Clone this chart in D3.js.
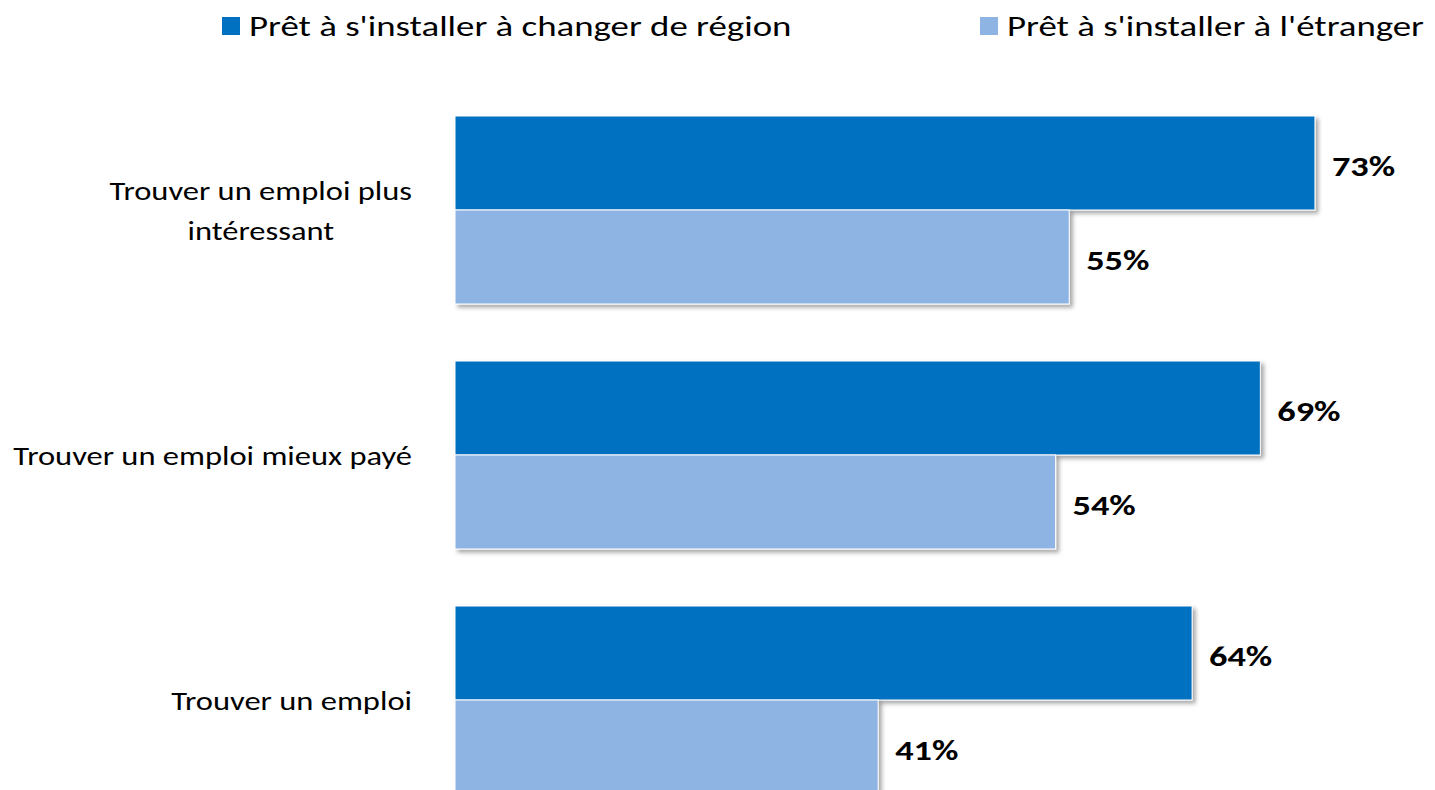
<!DOCTYPE html>
<html><head><meta charset="utf-8">
<script src="https://cdn.jsdelivr.net/npm/d3@7"></script>
<style>body{margin:0;background:#fff;}svg{display:block;font-family:Carlito,Lato,sans-serif;}</style>
</head><body>
<svg id="c" width="1435" height="790"></svg>
<script>
const categories = ["Trouver un emploi plus intéressant", "Trouver un emploi mieux payé", "Trouver un emploi"];
const categoryLines = [["Trouver un emploi plus", "intéressant"], ["Trouver un emploi mieux payé"], ["Trouver un emploi"]];
const seriesNames = ["Prêt à s'installer à changer de région", "Prêt à s'installer à l'étranger"];
const regionValues = [73, 69, 64];
const abroadValues = [55, 54, 41];
const colors = ["#0070C0", "#8EB4E3"];

const SX = 1.25; // horizontal text stretch to match the reference's aspect
const svg = d3.select("#c");
const defs = svg.append("defs");
const f = defs.append("filter").attr("id","sh").attr("x","-5%").attr("y","-10%").attr("width","115%").attr("height","130%");
f.append("feDropShadow").attr("dx",3).attr("dy",3).attr("stdDeviation",2).attr("flood-color","#000").attr("flood-opacity",0.35);

const x = d3.scaleLinear().domain([10, 80]).range([455, 455 + 70*13.65]);
const y0 = d3.scaleBand().domain(categories).range([116, 794]).paddingInner(57/245);
const y1 = d3.scaleBand().domain([0,1]).range([0, y0.bandwidth()]);

const data = categories.map((c,i)=>({c, lines: categoryLines[i], vals:[regionValues[i], abroadValues[i]]}));

const g = svg.append("g");
const grp = g.selectAll("g.grp").data(data).join("g").attr("transform", d=>`translate(0,${y0(d.c)})`);

function stretchedText(parent, tx, ty){
  return parent.append("g").attr("transform", `translate(${tx},${ty}) scale(${SX},1)`).append("text");
}

grp.each(function(d){
  const s = d3.select(this);
  d.vals.forEach((v,k)=>{
    s.append("rect").attr("x", x(10)).attr("y", y1(k)).attr("width", x(v)-x(10)).attr("height", y1.bandwidth())
      .attr("fill", colors[k]).attr("stroke","#fff").attr("stroke-width",1).attr("filter","url(#sh)");
  });
  d.vals.forEach((v,k)=>{
    stretchedText(s, x(v)+17, y1(k)+y1.bandwidth()/2 + 13)
      .attr("font-size",29).attr("font-weight","bold").attr("fill","#000").text(v+"%");
  });
  const lh = 40;
  const n = d.lines.length;
  const cy = y0.bandwidth()/2 + 9.5;
  const t = stretchedText(s, 0, cy).attr("font-size",26).attr("fill","#000");
  const spans = t.selectAll("tspan").data(d.lines).join("tspan")
    .attr("y", (l,j)=> (j-(n-1)/2)*lh).attr("text-anchor","middle").text(l=>l);
  // block right-aligned at 412, lines centred within the block
  let maxW = 0;
  spans.each(function(){ maxW = Math.max(maxW, this.getComputedTextLength()); });
  spans.attr("x", (412/SX) - maxW/2);
});

// legend
const leg = svg.append("g");
const legX = [222, 980];
seriesNames.forEach((n,k)=>{
  leg.append("rect").attr("x", legX[k]).attr("y", 17).attr("width", 18).attr("height", 18).attr("fill", colors[k]);
  stretchedText(leg, legX[k]+27, 36).attr("font-size",29.5).attr("fill","#000").text(n);
});
</script>
</body></html>
